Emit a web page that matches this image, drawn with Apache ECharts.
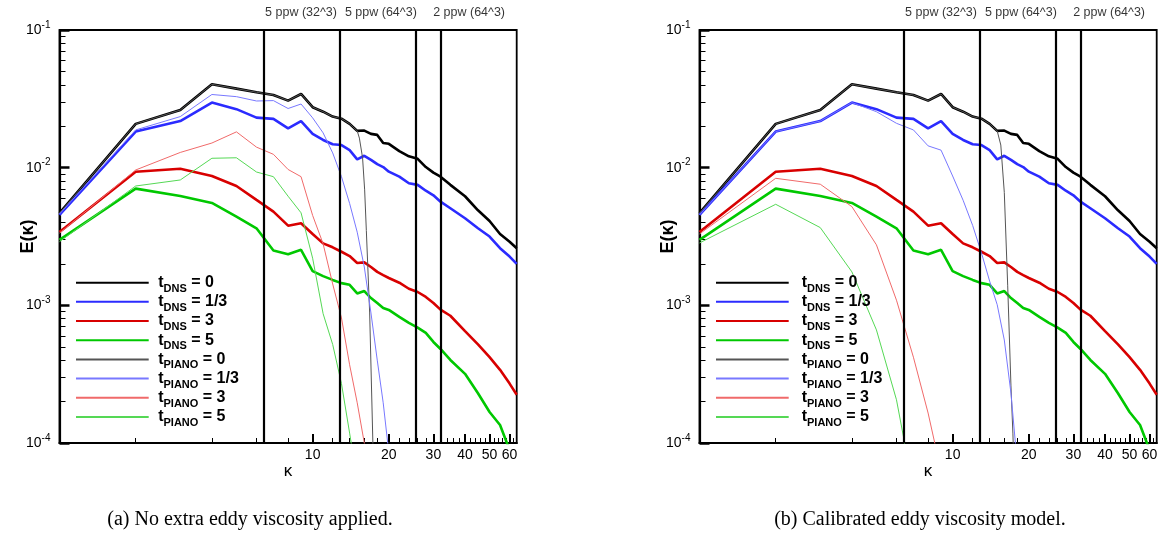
<!DOCTYPE html>
<html><head><meta charset="utf-8">
<script src="https://cdn.jsdelivr.net/npm/echarts@6/dist/echarts.min.js"></script>
<style>html,body{margin:0;padding:0;background:#fff}#c{width:1165px;height:540px}</style>
</head><body><div id="c"></div>
<script>
// ---- data ----
const kDNS = [1,2,3,4,5,6,7,8,9,10,11,12,13,14,15,16,17,18,19,20,22,24,26,28,30,32,35,40,45,50,55,60,64];
const eDNS0 = [0.00467,0.0208,0.0262,0.0403,0.0375,0.0353,0.0337,0.0307,0.0343,0.0275,0.0255,0.0235,0.0227,0.0208,0.0185,0.0186,0.0176,0.0173,0.0151,0.0149,0.0132,0.0121,0.0116,0.0101,0.0092,0.0086,0.0075,0.0062,0.0049,0.0041,0.0033,0.0029,0.0026];
const eDNS13 = [0.00454,0.0183,0.0218,0.0297,0.0266,0.0231,0.0226,0.0193,0.0218,0.0176,0.0159,0.0148,0.0146,0.0134,0.0115,0.0122,0.0114,0.0106,0.0101,0.00935,0.0086,0.0077,0.0075,0.0068,0.0063,0.00566,0.00507,0.00429,0.00363,0.00316,0.0026,0.00226,0.0020];
const eDNS3 = [0.00341,0.00935,0.00983,0.0087,0.00736,0.00583,0.00479,0.00379,0.00395,0.0033,0.00282,0.00264,0.00245,0.00228,0.00203,0.00205,0.0019,0.00175,0.00166,0.00158,0.00146,0.00132,0.00125,0.00115,0.00104,0.00093,0.00084,0.00065,0.00052,0.00042,0.00034,0.00027,0.000224];
const eDNS5 = [0.00299,0.00704,0.00623,0.00554,0.00441,0.00363,0.0025,0.00235,0.00253,0.00177,0.00163,0.00153,0.00145,0.00141,0.00122,0.00127,0.00113,0.00104,0.000957,0.000926,0.000824,0.000745,0.000689,0.00063,0.000542,0.000482,0.000401,0.000318,0.00023,0.000168,0.000135,0.000089,0.000069];

// (a) PIANO, no extra eddy viscosity
const kPA0 = [1,2,3,4,5,6,7,8,9,10,11,12,13,14,15,15.3,15.75,16.05,16.3,16.8,17.3,17.6];
const ePA0 = [0.00467,0.0208,0.0262,0.0403,0.0375,0.0353,0.0337,0.0307,0.0343,0.0275,0.0255,0.0235,0.0227,0.0208,0.0185,0.0164,0.0118,0.0069,0.0035,0.00088,0.0001,0.00005];
const kPA13 = [1,2,3,4,5,6,7,8,9,10,11,12,13,14,15,16,17,18,19,19.8,20.3];
const ePA13 = [0.0046,0.0188,0.0235,0.034,0.0328,0.0305,0.0307,0.0269,0.029,0.023,0.0179,0.0128,0.0086,0.0055,0.0034,0.0019,0.00088,0.0004,0.000196,0.0001,0.00006];
const kPA3 = [1,2,3,4,5,6,7,8,9,10,11,12,13,14,15,16,16.5];
const ePA3 = [0.00335,0.00962,0.0129,0.0151,0.0182,0.0141,0.0125,0.0097,0.0086,0.0045,0.0028,0.00143,0.00081,0.00037,0.000196,0.0001,0.000065];
const kPA5 = [1,2,3,4,5,6,7,8,9,10,11,12,13,14,14.2,14.8];
const ePA5 = [0.0029,0.00736,0.00814,0.0117,0.0118,0.0093,0.0086,0.0062,0.0047,0.0022,0.00087,0.00052,0.00027,0.000118,0.0001,0.00006];

// (b) PIANO, calibrated eddy viscosity model
const kPB0 = [1,2,3,4,5,6,7,8,9,10,11,12,13,14,15,15.5,16,16.5,17,17.3,17.5];
const ePB0 = [0.00467,0.0208,0.0262,0.0403,0.0375,0.0353,0.0337,0.0307,0.0343,0.0275,0.0255,0.0235,0.0227,0.0208,0.0185,0.0146,0.0066,0.0014,0.00026,0.000118,0.00006];
const kPB13 = [1,2,3,4,5,6,7,8,9,10,11,12,13,14,15,16,17,17.7,18.2];
const ePB13 = [0.00454,0.0183,0.0218,0.0297,0.0255,0.021,0.0188,0.0144,0.0134,0.0087,0.0058,0.0038,0.0024,0.0015,0.00101,0.00056,0.00023,0.0001,0.00005];
const kPB3 = [1,2,3,4,5,6,7,8,8.5,9];
const ePB3 = [0.0033,0.00837,0.00758,0.00521,0.00275,0.00109,0.00042,0.000165,0.0001,0.00006];
const kPB5 = [1,2,3,4,5,6,6.4,6.7];
const ePB5 = [0.00284,0.00542,0.00367,0.00175,0.000663,0.000206,0.00011,0.00006];

const xMajorTicks = [10,20,30,40,50,60];
const xMinorTicks = [2,4,6,8,12,14,16,18,22,24,26,28,32,34,36,38,42,44,46,48,52,54,56,58,62];
const yMajorTicks = [0.0001,0.001,0.01,0.1];
const yMinorTicks = [0.0002,0.0003,0.0004,0.0005,0.0006,0.0007,0.0008,0.0009,
                     0.002,0.003,0.004,0.005,0.006,0.007,0.008,0.009,
                     0.02,0.03,0.04,0.05,0.06,0.07,0.08,0.09];
const resLinesK = [6.4,12.8,25.6,32];
const annotK = [9.0,18.6,41.5];
const annotText = ['5 ppw (32^3)','5 ppw (64^3)','2 ppw (64^3)'];
const captions = ['(a) No extra eddy viscosity applied.','(b) Calibrated eddy viscosity model.'];
const legendNames = ['DNS|0','DNS|1/3','DNS|3','DNS|5','PIANO|0','PIANO|1/3','PIANO|3','PIANO|5'];

const panels = [
  {piano:[[kPA0,ePA0],[kPA13,ePA13],[kPA3,ePA3],[kPA5,ePA5]]},
  {piano:[[kPB0,ePB0],[kPB13,ePB13],[kPB3,ePB3],[kPB5,ePB5]]}
];
const dnsE = [eDNS0,eDNS13,eDNS3,eDNS5];
const dnsColors = ['#000000','#2b2bff','#d80000','#00c800'];
const pianoColors = ['#555555','#7878ff','#f06a6a','#55d855'];

const FONT = 'Liberation Sans';
const gridLeft = [59.5, 699.5];
const grids = [], xAxes = [], yAxes = [], series = [];

gridLeft.forEach((L, g) => {
  grids.push({left:L, top:30, width:457.2, height:413, show:true, borderColor:'#000', borderWidth:1.8, outerBoundsMode:'none'});
  const xBase = {type:'log', logBase:10, gridIndex:g, min:1, max:64, position:'bottom', splitLine:{show:false}, minorTick:{show:false}};
  xAxes.push(Object.assign({}, xBase, {
    axisLine:{show:true, lineStyle:{color:'#000', width:2.2}},
    axisTick:{show:true, inside:true, length:9, lineStyle:{color:'#000', width:2}, customValues:xMajorTicks},
    axisLabel:{show:true, customValues:xMajorTicks, color:'#000', fontSize:14, fontFamily:FONT, margin:5, formatter:v=>String(Math.round(v))},
    name:'κ', nameLocation:'middle', nameGap:20, nameMoveOverlap:false, nameTextStyle:{fontSize:17, color:'#000', fontFamily:FONT}
  }));
  xAxes.push(Object.assign({}, xBase, {
    axisLine:{show:false},
    axisTick:{show:true, inside:true, length:5, lineStyle:{color:'#000', width:1}, customValues:xMinorTicks},
    axisLabel:{show:false}
  }));
  const yBase = {type:'log', logBase:10, gridIndex:g, min:0.0001, max:0.1, position:'left', splitLine:{show:false}, minorTick:{show:false}};
  yAxes.push(Object.assign({}, yBase, {
    axisLine:{show:true, lineStyle:{color:'#000', width:2.2}},
    axisTick:{show:true, inside:true, length:10, lineStyle:{color:'#000', width:2.5}, customValues:yMajorTicks},
    axisLabel:{show:true, customValues:yMajorTicks, margin:9,
      formatter:v=>'{b|10}{s|' + Math.round(Math.log10(v)) + '}',
      rich:{b:{fontSize:14, fontFamily:FONT, color:'#000', lineHeight:20}, s:{fontSize:10, fontFamily:FONT, color:'#000', verticalAlign:'top', lineHeight:10}}},
    name:'E(κ)', nameLocation:'middle', nameGap:22.5, nameMoveOverlap:false, nameTextStyle:{fontSize:18, fontWeight:'bold', color:'#000', fontFamily:FONT}
  }));
  yAxes.push(Object.assign({}, yBase, {
    axisLine:{show:false},
    axisTick:{show:true, inside:true, length:6, lineStyle:{color:'#000', width:1}, customValues:yMinorTicks},
    axisLabel:{show:false}
  }));
  const xi = g*2, yi = g*2;
  dnsE.forEach((e, i) => {
    series.push({type:'line', name:legendNames[i], xAxisIndex:xi, yAxisIndex:yi,
      data:kDNS.map((k,j)=>[k,e[j]]), symbol:'none', showSymbol:false, silent:true,
      lineStyle:{color:dnsColors[i], width:2.6}, itemStyle:{color:dnsColors[i]}, z:2});
  });
  panels[g].piano.forEach(([ks, es], i) => {
    series.push({type:'line', name:legendNames[4+i], xAxisIndex:xi, yAxisIndex:yi,
      data:ks.map((k,j)=>[k,es[j]]), symbol:'none', showSymbol:false, silent:true,
      lineStyle:{color:pianoColors[i], width:1}, itemStyle:{color:pianoColors[i]}, z:3});
  });
  series.push({type:'scatter', name:'annot'+g, xAxisIndex:xi, yAxisIndex:yi, silent:true, symbolSize:0,
    data:annotK.map((k,i)=>({value:[k,0.1], label:{formatter:annotText[i]}})),
    label:{show:true, position:'top', distance:11, color:'#000', fontSize:12.5, fontFamily:FONT},
    markLine:{silent:true, symbol:['none','none'], label:{show:false}, animation:false,
      lineStyle:{color:'#000', width:2.2, type:'solid'}, data:resLinesK.map(k=>({xAxis:k}))}, z:4});
});

const legends = [75, 715].map((L, g) => ({
  left:L, top:274.7, orient:'vertical', padding:0, itemGap:-0.33, itemWidth:72.7, itemHeight:14,
  selectedMode:false, data:legendNames, itemStyle:{opacity:0, borderWidth:0},
  formatter:n=>{const p=n.split('|'); return '{t|t}{s|'+p[0]+'}{v| = '+p[1]+'}';},
  textStyle:{rich:{
    t:{fontSize:16, fontWeight:'bold', fontFamily:FONT, color:'#000', lineHeight:23, padding:[0,0,0,g?8:4.5]},
    s:{fontSize:11, fontWeight:'bold', fontFamily:FONT, color:'#000', verticalAlign:'bottom', lineHeight:11},
    v:{fontSize:16, fontWeight:'bold', fontFamily:FONT, color:'#000', lineHeight:23}}}
}));

const chart = echarts.init(document.getElementById('c'), null, {renderer:'canvas'});
chart.setOption({
  animation:false, backgroundColor:'#fff', textStyle:{fontFamily:FONT},
  grid:grids, xAxis:xAxes, yAxis:yAxes, legend:legends, series:series,
  graphic:captions.map((t, i) => ({type:'text', x:[250,920][i], y:520, silent:true,
    style:{text:t, align:'center', verticalAlign:'middle', fontSize:20, fontFamily:'Liberation Serif', fill:'#000'}}))
});
</script></body></html>
